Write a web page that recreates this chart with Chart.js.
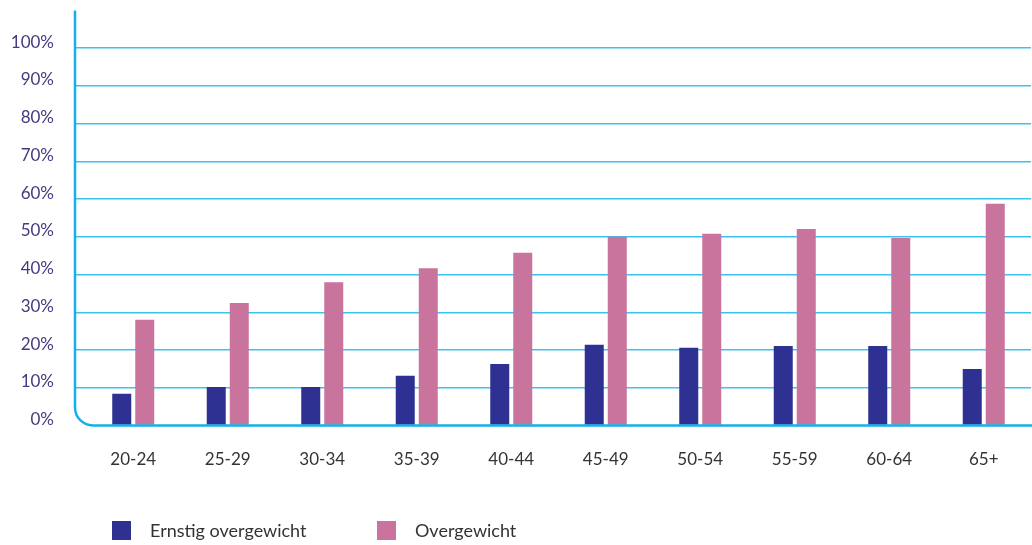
<!DOCTYPE html>
<html>
<head>
<meta charset="utf-8">
<script src="https://cdn.jsdelivr.net/npm/chart.js@4.4.0/dist/chart.umd.min.js"></script>
<style>
  html, body { margin: 0; padding: 0; background: #fff; }
  #wrap { position: relative; width: 1032px; height: 545px; }
  #legend { position: absolute; top: 521px; left: 112px; font-family: Lato, sans-serif; font-size: 18px; color: #333; }
  .item { position: absolute; top: 0; white-space: nowrap; }
  .box { position: absolute; top: 0; left: 0; width: 19px; height: 19px; }
  .txt { position: absolute; left: 38px; top: -1px; line-height: 21px; }
</style>
</head>
<body>
<div id="wrap">
  <canvas id="chart" width="1032" height="545"></canvas>
  <div id="legend"></div>
</div>
<script>
const categories = ["20-24", "25-29", "30-34", "35-39", "40-44", "45-49", "50-54", "55-59", "60-64", "65+"];
const ernstig = [8.4, 10.2, 10.2, 13.2, 16.3, 21.4, 20.6, 21.1, 21.1, 15];
const overgewicht = [28, 32.5, 38, 41.7, 45.8, 50, 50.8, 52.1, 49.7, 58.8];
const seriesNames = ["Ernstig overgewicht", "Overgewicht"];
const seriesColors = ["#2e3192", "#c8749c"];
const yMax = 110;

const axisBlue = "#14b0e8";
const gridBlue = "#3cc2ef";

// y axis line with the rounded corner, plus the bottom line
const axisFrame = {
  id: "axisFrame",
  afterDatasetsDraw(chart) {
    const { ctx, chartArea } = chart;
    const y0 = chart.scales.y.getPixelForValue(0);
    const x0 = 75, r = 18;
    ctx.save();
    ctx.strokeStyle = axisBlue;
    ctx.lineWidth = 2.5;
    ctx.beginPath();
    ctx.moveTo(x0, chartArea.top);
    ctx.lineTo(x0, y0 - r);
    ctx.arcTo(x0, y0, x0 + r, y0, r);
    ctx.lineTo(chart.width, y0);
    ctx.stroke();
    ctx.restore();
  }
};

const chart = new Chart(document.getElementById("chart"), {
  type: "bar",
  data: {
    labels: categories,
    datasets: [
      { label: seriesNames[0], data: ernstig, backgroundColor: seriesColors[0] },
      { label: seriesNames[1], data: overgewicht, backgroundColor: seriesColors[1] }
    ]
  },
  options: {
    responsive: false,
    animation: false,
    maintainAspectRatio: false,
    layout: { padding: { top: 10.5, right: 1, left: 0, bottom: 0 } },
    categoryPercentage: 0.487,
    barPercentage: 0.826,
    plugins: { legend: { display: false }, tooltip: { enabled: false } },
    scales: {
      x: {
        grid: { display: false, drawTicks: false },
        border: { display: false },
        ticks: { color: "#333", padding: 24, font: { family: "Lato", size: 17 } },
        afterFit: (s) => { s.height = 119.5; }
      },
      y: {
        min: 0,
        max: yMax,
        ticks: {
          stepSize: 10,
          padding: 21,
          labelOffset: -6,
          color: "#47397f",
          font: { family: "Lato", size: 17 },
          callback: (v) => (v === yMax ? "" : v + "%")
        },
        grid: {
          tickLength: 11,
          lineWidth: 1.5,
          color: (c) => (c.tick && (c.tick.value === yMax || c.tick.value === 0) ? "rgba(0,0,0,0)" : gridBlue)
        },
        border: { display: false },
        afterFit: (s) => { s.width = 86; s.paddingTop = 0; s.paddingBottom = 0; }
      }
    }
  },
  plugins: [axisFrame]
});

// legend as html under the chart
const legend = document.getElementById("legend");
const legendX = [0, 265];
chart.data.datasets.forEach((ds, i) => {
  const item = document.createElement("div");
  item.className = "item";
  item.style.left = legendX[i] + "px";
  item.innerHTML = `<div class="box" style="background:${ds.backgroundColor}"></div><div class="txt">${ds.label}</div>`;
  legend.appendChild(item);
});
</script>
</body>
</html>
